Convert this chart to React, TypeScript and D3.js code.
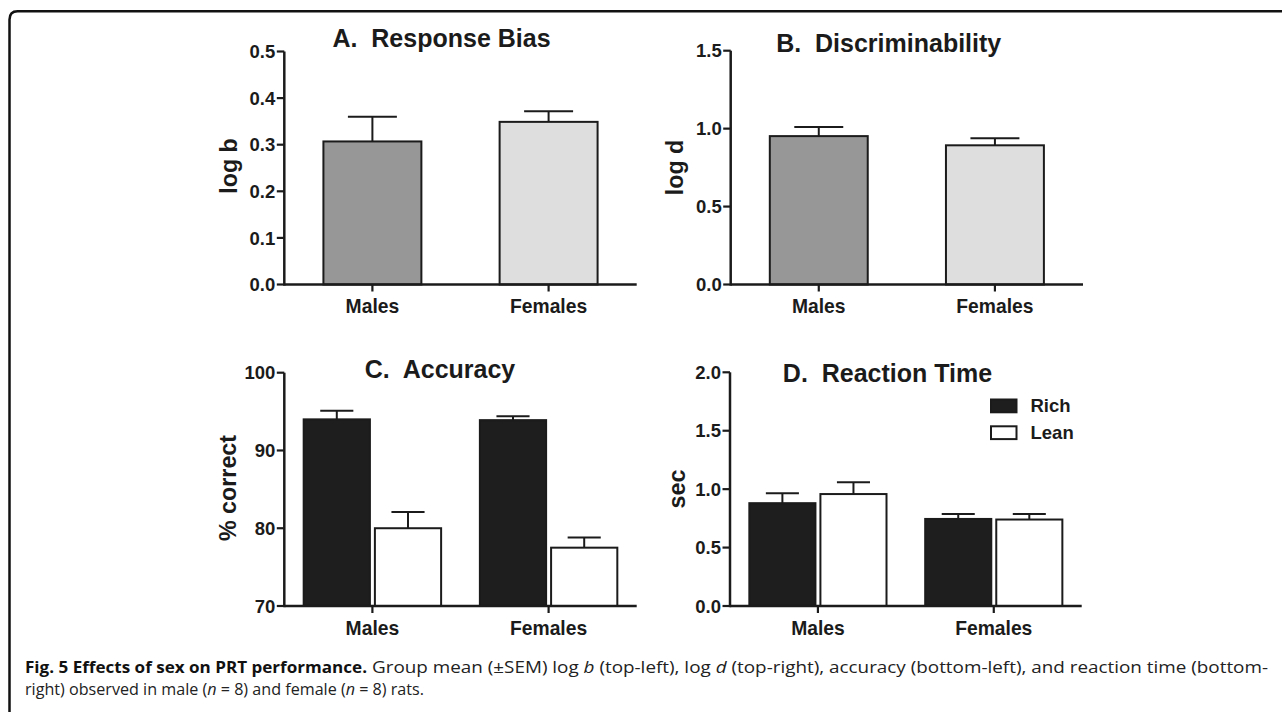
import React from "react";
import * as d3 from "d3";

// ---------- data ----------
const categories = ["Males", "Females"];
const seriesNames = ["Rich", "Lean"];

const biasMean = [0.307, 0.349];
const biasSem = [0.053, 0.023];

const discMean = [0.952, 0.893];
const discSem = [0.058, 0.046];

const accRichMean = [94.0, 93.9];
const accRichSem = [1.1, 0.5];
const accLeanMean = [80.0, 77.5];
const accLeanSem = [2.1, 1.3];

const rtRichMean = [0.88, 0.745];
const rtRichSem = [0.085, 0.042];
const rtLeanMean = [0.958, 0.74];
const rtLeanSem = [0.1, 0.047];

const biasTicks = [0, 0.1, 0.2, 0.3, 0.4, 0.5];
const discTicks = [0, 0.5, 1.0, 1.5];
const accTicks = [70, 80, 90, 100];
const rtTicks = [0, 0.5, 1.0, 1.5, 2.0];

const titles = ["A.  Response Bias", "B.  Discriminability", "C.  Accuracy", "D.  Reaction Time"];
const yLabels = ["log b", "log d", "% correct", "sec"];

// ---------- styles ----------
const FONT = "'Liberation Sans', Arial, Helvetica, sans-serif";
const INK = "#1b1b1b";
const singleFills = ["#979797", "#dedede"];
const seriesFills = ["#1e1e1e", "#ffffff"];

type Series = { mean: number[]; sem: number[]; fill: string | string[] };

type Panel = {
  left: number;
  right: number;
  bottom: number;
  top: number;
  domain: [number, number];
  ticks: number[];
  fmt: (v: number) => string;
  title: string;
  titleX: number;
  titleY: number;
  yLabel: string;
  yLabelX: number;
  yLabelY: number;
  xLabelY: number;
  series: Series[];
  grouped: boolean;
  legend?: boolean;
};

const f1 = d3.format(".1f");
const f0 = d3.format("d");

const panels: Panel[] = [
  {
    left: 284.3, right: 636.7, bottom: 284.5, top: 51.5,
    domain: [0, 0.5], ticks: biasTicks, fmt: f1,
    title: titles[0], titleX: 441.5, titleY: 46.5,
    yLabel: yLabels[0], yLabelX: 229, yLabelY: 166,
    xLabelY: 313.3,
    series: [{ mean: biasMean, sem: biasSem, fill: singleFills }],
    grouped: false,
  },
  {
    left: 730.7, right: 1083, bottom: 284.5, top: 50.7,
    domain: [0, 1.5], ticks: discTicks, fmt: f1,
    title: titles[1], titleX: 888.7, titleY: 51.5,
    yLabel: yLabels[1], yLabelX: 675, yLabelY: 167.5,
    xLabelY: 313.3,
    series: [{ mean: discMean, sem: discSem, fill: singleFills }],
    grouped: false,
  },
  {
    left: 284.3, right: 636.7, bottom: 606, top: 372.7,
    domain: [70, 100], ticks: accTicks, fmt: f0,
    title: titles[2], titleX: 440, titleY: 378.3,
    yLabel: yLabels[2], yLabelX: 228.3, yLabelY: 488,
    xLabelY: 635,
    series: [
      { mean: accRichMean, sem: accRichSem, fill: seriesFills[0] },
      { mean: accLeanMean, sem: accLeanSem, fill: seriesFills[1] },
    ],
    grouped: true,
  },
  {
    left: 730, right: 1081.7, bottom: 606, top: 372.3,
    domain: [0, 2.0], ticks: rtTicks, fmt: f1,
    title: titles[3], titleX: 887.5, titleY: 381.7,
    yLabel: yLabels[3], yLabelX: 676.7, yLabelY: 489,
    xLabelY: 635,
    series: [
      { mean: rtRichMean, sem: rtRichSem, fill: seriesFills[0] },
      { mean: rtLeanMean, sem: rtLeanSem, fill: seriesFills[1] },
    ],
    grouped: true,
    legend: true,
  },
];

function PanelView({ p }: { p: Panel }) {
  const x = d3.scalePoint<string>().domain(categories).range([p.left, p.right]).padding(0.5);
  const y = d3.scaleLinear().domain(p.domain).range([p.bottom, p.top]);
  const step = x.step();
  let inner: d3.ScaleBand<string>;
  if (p.grouped) {
    const half = step * 0.39;
    inner = d3.scaleBand<string>().domain(seriesNames).range([-half, half]).paddingInner(0.07);
  } else {
    const half = step * 0.278;
    inner = d3.scaleBand<string>().domain([seriesNames[0]]).range([-half, half]);
  }
  const bw = inner.bandwidth();

  const bars: React.ReactNode[] = [];
  p.series.forEach((s, si) => {
    categories.forEach((c, ci) => {
      const x0 = (x(c) as number) + (inner(p.grouped ? seriesNames[si] : seriesNames[0]) as number);
      const fill = Array.isArray(s.fill) ? s.fill[ci] : s.fill;
      const yTop = y(s.mean[ci]);
      const yErr = y(s.mean[ci] + s.sem[ci]);
      const cx = x0 + bw / 2;
      bars.push(
        <g key={`${si}-${ci}`}>
          <line x1={cx} x2={cx} y1={yTop} y2={yErr} stroke={INK} strokeWidth={2} />
          <line x1={cx - bw / 4} x2={cx + bw / 4} y1={yErr} y2={yErr} stroke={INK} strokeWidth={2} />
          <rect x={x0} y={yTop} width={bw} height={p.bottom - yTop} fill={fill} stroke={INK} strokeWidth={2} />
        </g>
      );
    });
  });

  return (
    <g>
      {bars}
      {/* y axis */}
      <line x1={p.left} x2={p.left} y1={p.top} y2={p.bottom + 1.2} stroke={INK} strokeWidth={2.5} />
      {p.ticks.map((t) => (
        <g key={t}>
          <line x1={p.left - 7.5} x2={p.left} y1={y(t)} y2={y(t)} stroke={INK} strokeWidth={2.2} />
          <text
            x={p.left - 9}
            y={y(t)}
            dy="0.36em"
            textAnchor="end"
            fontFamily={FONT}
            fontWeight="bold"
            fontSize={18.5}
            fill={INK}
          >
            {p.fmt(t)}
          </text>
        </g>
      ))}
      {/* x axis */}
      <line x1={p.left} x2={p.right} y1={p.bottom} y2={p.bottom} stroke={INK} strokeWidth={2.5} />
      {categories.map((c) => (
        <g key={c}>
          <line x1={x(c)} x2={x(c)} y1={p.bottom} y2={p.bottom + 7} stroke={INK} strokeWidth={2.2} />
          <text
            x={x(c)}
            y={p.xLabelY}
            textAnchor="middle"
            fontFamily={FONT}
            fontWeight="bold"
            fontSize={19.3}
            fill={INK}
          >
            {c}
          </text>
        </g>
      ))}
      {/* title */}
      <text
        x={p.titleX}
        y={p.titleY}
        textAnchor="middle"
        fontFamily={FONT}
        fontWeight="bold"
        fontSize={25}
        fill={INK}
        style={{ whiteSpace: "pre" }}
        xmlSpace="preserve"
      >
        {p.title}
      </text>
      {/* y label */}
      <text
        transform={`translate(${p.yLabelX},${p.yLabelY}) rotate(-90)`}
        dy="0.35em"
        textAnchor="middle"
        fontFamily={FONT}
        fontWeight="bold"
        fontSize={23.3}
        fill={INK}
      >
        {p.yLabel}
      </text>
      {p.legend &&
        seriesNames.map((n, i) => (
          <g key={n}>
            <rect
              x={991}
              y={399.5 + i * 26.8}
              width={25.5}
              height={12.8}
              fill={seriesFills[i]}
              stroke={INK}
              strokeWidth={2}
            />
            <text x={1030.5} y={412.3 + i * 26.8} fontFamily={FONT} fontWeight="bold" fontSize={18.5} fill={INK}>
              {n}
            </text>
          </g>
        ))}
    </g>
  );
}

const CAP_FONT = "'Open Sans', 'Noto Sans', sans-serif";

export default function App() {
  return (
    <svg
      width={1282}
      height={712}
      viewBox="0 0 1282 712"
      style={{ position: "absolute", left: 0, top: 0, background: "#fff" }}
    >
      <rect x={0} y={0} width={1282} height={712} fill="#fff" />
      <path d="M 9.5 712 L 9.5 19.5 Q 9.5 11.2 17.5 11.2 L 1282 11.2" fill="none" stroke="#111" strokeWidth={2.5} />
      {panels.map((p, i) => (
        <PanelView key={i} p={p} />
      ))}
      {/* caption */}
      <text
        x={25}
        y={672.7}
        fontFamily={CAP_FONT}
        fontWeight="bold"
        fontSize={15.5}
        fill="#111"
        textLength={342}
        lengthAdjust="spacingAndGlyphs"
      >
        Fig. 5 Effects of sex on PRT performance.
      </text>
      <text
        x={372}
        y={672.7}
        fontFamily={CAP_FONT}
        fontSize={15.5}
        fill="#222"
        textLength={896}
        lengthAdjust="spacingAndGlyphs"
      >
        Group mean (±SEM) log <tspan fontStyle="italic">b</tspan> (top-left), log{" "}
        <tspan fontStyle="italic">d</tspan> (top-right), accuracy (bottom-left), and reaction time (bottom-
      </text>
      <text
        x={25}
        y={694.7}
        fontFamily={CAP_FONT}
        fontSize={15.5}
        fill="#222"
        textLength={399}
        lengthAdjust="spacingAndGlyphs"
      >
        right) observed in male (<tspan fontStyle="italic">n</tspan> = 8) and female (
        <tspan fontStyle="italic">n</tspan> = 8) rats.
      </text>
    </svg>
  );
}
